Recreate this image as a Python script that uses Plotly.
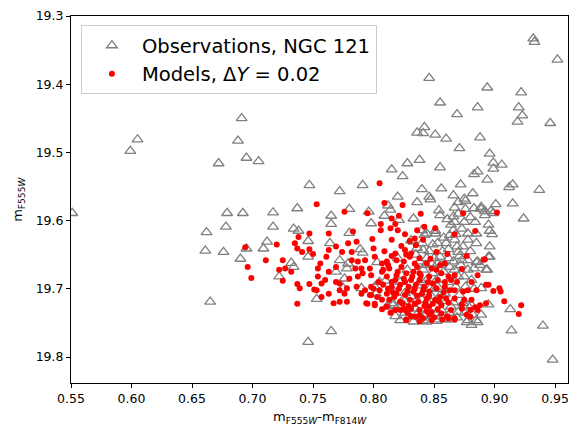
import plotly.graph_objects as go

obs_points = [
    (0.932, 19.333), (0.933, 19.338), (0.952, 19.364), (0.846, 19.391), (0.894, 19.405),
    (0.922, 19.412), (0.855, 19.427), (0.886, 19.434), (0.920, 19.434), (0.923, 19.446),
    (0.919, 19.455), (0.946, 19.457), (0.869, 19.444), (0.836, 19.471), (0.842, 19.463),
    (0.841, 19.472), (0.851, 19.474), (0.860, 19.480), (0.888, 19.478), (0.871, 19.494),
    (0.896, 19.502), (0.899, 19.515), (0.906, 19.518), (0.899, 19.524), (0.838, 19.511),
    (0.828, 19.516), (0.815, 19.525), (0.824, 19.535), (0.855, 19.522), (0.883, 19.532),
    (0.886, 19.528), (0.894, 19.540), (0.840, 19.554), (0.856, 19.553), (0.872, 19.547),
    (0.882, 19.560), (0.866, 19.563), (0.875, 19.568), (0.912, 19.551), (0.915, 19.547),
    (0.937, 19.555), (0.846, 19.565), (0.820, 19.565),
    (0.599, 19.498), (0.605, 19.481), (0.691, 19.450), (0.688, 19.483), (0.695, 19.508),
    (0.705, 19.513), (0.672, 19.516), (0.747, 19.548), (0.791, 19.548), (0.772, 19.557),
    (0.551, 19.589), (0.662, 19.617), (0.661, 19.644), (0.665, 19.719), (0.746, 19.778),
    (0.765, 19.762), (0.746, 19.630), (0.746, 19.653), (0.737, 19.582), (0.780, 19.583),
    (0.796, 19.587),
    (0.679, 19.589), (0.692, 19.589), (0.717, 19.588), (0.678, 19.609), (0.717, 19.609),
    (0.734, 19.612), (0.738, 19.615), (0.712, 19.631), (0.709, 19.641), (0.695, 19.641),
    (0.676, 19.646), (0.690, 19.656), (0.732, 19.662), (0.734, 19.668), (0.722, 19.682),
    (0.753, 19.715),
    (0.765, 19.593), (0.765, 19.605), (0.780, 19.618), (0.764, 19.633), (0.789, 19.642),
    (0.791, 19.647), (0.772, 19.658), (0.779, 19.663), (0.769, 19.675), (0.778, 19.670),
    (0.776, 19.685), (0.775, 19.699), (0.790, 19.699), (0.801, 19.697), (0.805, 19.690),
    (0.802, 19.707),
    (0.812, 19.578), (0.814, 19.584), (0.809, 19.593), (0.821, 19.599), (0.833, 19.597),
    (0.836, 19.573), (0.831, 19.629), (0.840, 19.614), (0.842, 19.621), (0.851, 19.615),
    (0.854, 19.585), (0.867, 19.581), (0.870, 19.573), (0.876, 19.571), (0.876, 19.583),
    (0.883, 19.582), (0.889, 19.583), (0.892, 19.586), (0.897, 19.586), (0.889, 19.580),
    (0.901, 19.576), (0.915, 19.575), (0.924, 19.597), (0.847, 19.569),
    (0.798, 19.604), (0.803, 19.661), (0.810, 19.688), (0.815, 19.700), (0.822, 19.690),
    (0.826, 19.706), (0.820, 19.655), (0.828, 19.672),
    (0.844, 19.619), (0.851, 19.619), (0.840, 19.633), (0.841, 19.643), (0.846, 19.645),
    (0.853, 19.633), (0.844, 19.655), (0.848, 19.663), (0.853, 19.663), (0.841, 19.672),
    (0.849, 19.677), (0.844, 19.687), (0.852, 19.687), (0.847, 19.699), (0.833, 19.631),
    (0.831, 19.711), (0.840, 19.716), (0.848, 19.711), (0.853, 19.716), (0.816, 19.721),
    (0.823, 19.719), (0.811, 19.726), (0.819, 19.729), (0.835, 19.729), (0.845, 19.731),
    (0.852, 19.736), (0.838, 19.741), (0.830, 19.741), (0.822, 19.746), (0.844, 19.748),
    (0.852, 19.747), (0.833, 19.748), (0.841, 19.746),
    (0.855, 19.592), (0.866, 19.594), (0.867, 19.602), (0.875, 19.602), (0.884, 19.602),
    (0.892, 19.592), (0.899, 19.589), (0.895, 19.606), (0.878, 19.619), (0.885, 19.619),
    (0.867, 19.628), (0.878, 19.628), (0.860, 19.633), (0.869, 19.638), (0.885, 19.633),
    (0.870, 19.646), (0.873, 19.658), (0.878, 19.658), (0.886, 19.660), (0.895, 19.653),
    (0.893, 19.672), (0.881, 19.687), (0.889, 19.699), (0.855, 19.653), (0.856, 19.665),
    (0.858, 19.675), (0.863, 19.668), (0.867, 19.672), (0.870, 19.682), (0.875, 19.682),
    (0.853, 19.697), (0.859, 19.707), (0.871, 19.709), (0.874, 19.721), (0.881, 19.724),
    (0.856, 19.731), (0.864, 19.726), (0.870, 19.734), (0.878, 19.746), (0.885, 19.746),
    (0.864, 19.745), (0.853, 19.745), (0.889, 19.738), (0.866, 19.614), (0.864, 19.606),
    (0.863, 19.621),
    (0.835, 19.650), (0.838, 19.660), (0.843, 19.665), (0.850, 19.655), (0.857, 19.645),
    (0.862, 19.655), (0.866, 19.660), (0.872, 19.665), (0.878, 19.672), (0.883, 19.670),
    (0.862, 19.690), (0.868, 19.697), (0.876, 19.697), (0.883, 19.700), (0.857, 19.718),
    (0.863, 19.736), (0.869, 19.742), (0.875, 19.735), (0.882, 19.738), (0.878, 19.725),
    (0.866, 19.720), (0.860, 19.745), (0.848, 19.740), (0.856, 19.740), (0.837, 19.735),
    (0.842, 19.705), (0.836, 19.695), (0.845, 19.720), (0.832, 19.722), (0.826, 19.735),
    (0.818, 19.740), (0.840, 19.690), (0.850, 19.700), (0.855, 19.710), (0.871, 19.652),
    (0.880, 19.645), (0.862, 19.642), (0.874, 19.638), (0.868, 19.620), (0.873, 19.612),
    (0.858, 19.625), (0.849, 19.635), (0.836, 19.640), (0.870, 19.590), (0.861, 19.598),
    (0.880, 19.595),
    (0.896, 19.615), (0.898, 19.620), (0.896, 19.638), (0.896, 19.653), (0.894, 19.672),
    (0.913, 19.730), (0.914, 19.761), (0.940, 19.754), (0.948, 19.804), (0.886, 19.749),
    (0.881, 19.753), (0.877, 19.749), (0.895, 19.723), (0.888, 19.665), (0.885, 19.661),
    (0.816, 19.724),
]

# model stars, delta Y = 0.02
model_points = [
    (0.694, 19.639), (0.696, 19.668), (0.699, 19.684), (0.711, 19.658), (0.720, 19.635),
    (0.722, 19.672), (0.725, 19.658), (0.725, 19.688), (0.727, 19.670), (0.732, 19.675),
    (0.735, 19.633), (0.738, 19.624), (0.737, 19.641), (0.737, 19.693), (0.739, 19.699),
    (0.737, 19.722), (0.741, 19.646), (0.747, 19.619), (0.747, 19.642), (0.750, 19.649),
    (0.747, 19.693), (0.751, 19.701), (0.753, 19.576),
    (0.776, 19.587), (0.795, 19.589), (0.763, 19.619), (0.783, 19.616), (0.786, 19.631),
    (0.779, 19.633), (0.763, 19.643), (0.769, 19.638), (0.774, 19.646), (0.782, 19.646),
    (0.800, 19.641), (0.761, 19.653), (0.756, 19.663), (0.754, 19.670), (0.763, 19.675),
    (0.769, 19.668), (0.782, 19.658), (0.787, 19.660), (0.793, 19.658), (0.801, 19.653),
    (0.785, 19.670), (0.790, 19.670), (0.797, 19.670), (0.754, 19.682), (0.760, 19.687),
    (0.757, 19.692), (0.769, 19.690), (0.772, 19.692), (0.780, 19.685), (0.787, 19.682),
    (0.791, 19.677), (0.798, 19.680), (0.807, 19.663), (0.807, 19.675), (0.753, 19.702),
    (0.763, 19.707), (0.772, 19.702), (0.778, 19.699), (0.786, 19.697), (0.793, 19.702),
    (0.798, 19.697), (0.805, 19.702), (0.757, 19.712), (0.776, 19.707), (0.790, 19.707),
    (0.797, 19.709), (0.767, 19.721), (0.772, 19.719), (0.778, 19.719), (0.794, 19.721),
    (0.801, 19.724), (0.807, 19.716),
    (0.818, 19.648), (0.826, 19.643), (0.831, 19.648), (0.835, 19.636), (0.841, 19.628),
    (0.811, 19.660), (0.819, 19.658), (0.825, 19.660), (0.830, 19.653), (0.834, 19.663),
    (0.844, 19.663), (0.808, 19.672), (0.813, 19.670), (0.820, 19.675), (0.827, 19.677),
    (0.833, 19.675), (0.838, 19.677), (0.811, 19.682), (0.818, 19.687), (0.825, 19.685),
    (0.831, 19.687), (0.838, 19.687), (0.846, 19.682), (0.808, 19.694), (0.815, 19.697),
    (0.822, 19.694), (0.829, 19.697), (0.835, 19.694), (0.842, 19.697), (0.849, 19.692),
    (0.811, 19.707), (0.819, 19.707), (0.826, 19.709), (0.833, 19.704), (0.840, 19.707),
    (0.846, 19.704), (0.852, 19.699), (0.813, 19.716), (0.822, 19.719), (0.830, 19.716),
    (0.837, 19.719), (0.844, 19.714), (0.851, 19.716), (0.818, 19.731), (0.825, 19.729),
    (0.831, 19.729), (0.838, 19.731), (0.846, 19.726), (0.811, 19.726), (0.827, 19.746),
    (0.835, 19.741), (0.841, 19.743), (0.848, 19.746), (0.822, 19.731), (0.838, 19.748),
    (0.846, 19.738),
    (0.874, 19.589), (0.867, 19.620), (0.884, 19.615), (0.852, 19.646), (0.861, 19.649),
    (0.877, 19.652), (0.891, 19.657), (0.859, 19.663), (0.873, 19.671), (0.852, 19.672),
    (0.856, 19.677), (0.862, 19.682), (0.867, 19.680), (0.864, 19.687), (0.869, 19.690),
    (0.853, 19.687), (0.881, 19.690), (0.886, 19.680), (0.893, 19.694), (0.899, 19.703),
    (0.859, 19.697), (0.863, 19.702), (0.867, 19.702), (0.874, 19.704), (0.878, 19.702),
    (0.885, 19.702), (0.855, 19.712), (0.860, 19.714), (0.867, 19.714), (0.875, 19.716),
    (0.881, 19.716), (0.888, 19.724), (0.893, 19.721), (0.856, 19.724), (0.864, 19.731),
    (0.873, 19.729), (0.880, 19.731), (0.886, 19.731), (0.856, 19.736), (0.862, 19.743),
    (0.867, 19.743), (0.877, 19.738), (0.880, 19.741),
    (0.902, 19.588), (0.892, 19.657), (0.895, 19.694), (0.904, 19.699), (0.905, 19.704),
    (0.908, 19.718), (0.922, 19.724), (0.920, 19.737),
    (0.805, 19.545), (0.809, 19.574), (0.824, 19.577), (0.821, 19.593), (0.815, 19.597),
    (0.839, 19.590), (0.806, 19.605), (0.818, 19.605), (0.842, 19.609), (0.851, 19.611),
    (0.814, 19.611), (0.806, 19.614), (0.820, 19.614), (0.836, 19.614), (0.834, 19.626),
    (0.799, 19.627), (0.827, 19.745), (0.838, 19.739), (0.848, 19.734), (0.861, 19.740),
    (0.867, 19.745), (0.826, 19.731), (0.801, 19.722), (0.795, 19.722), (0.798, 19.709),
    (0.816, 19.705), (0.854, 19.718), (0.873, 19.723), (0.884, 19.727),
    (0.815, 19.690), (0.821, 19.700), (0.828, 19.703), (0.834, 19.700), (0.841, 19.702),
    (0.846, 19.710), (0.817, 19.712), (0.824, 19.722), (0.828, 19.735), (0.834, 19.722),
    (0.842, 19.725), (0.849, 19.722), (0.853, 19.730), (0.858, 19.705), (0.862, 19.720),
    (0.859, 19.690), (0.845, 19.690), (0.839, 19.680), (0.832, 19.682), (0.826, 19.690),
    (0.819, 19.680), (0.812, 19.700), (0.836, 19.710), (0.843, 19.720), (0.831, 19.740),
    (0.850, 19.742), (0.857, 19.745), (0.844, 19.733), (0.829, 19.725), (0.814, 19.735),
    (0.807, 19.730), (0.803, 19.712), (0.800, 19.700), (0.804, 19.690), (0.812, 19.665),
    (0.823, 19.668), (0.836, 19.668), (0.848, 19.670), (0.855, 19.665), (0.847, 19.656),
    (0.838, 19.655), (0.827, 19.650), (0.815, 19.652), (0.809, 19.645), (0.823, 19.637),
    (0.830, 19.630), (0.815, 19.628), (0.826, 19.620),
]

obs_color = [p[0] for p in obs_points]
obs_mag = [p[1] for p in obs_points]
mod_color = [p[0] for p in model_points]
mod_mag = [p[1] for p in model_points]

fig = go.Figure()
fig.add_trace(go.Scatter(
    x=obs_color, y=obs_mag, mode="markers",
    name="Observations, NGC 121",
    marker=dict(symbol="triangle-up-open", size=9.5, color="gray", line=dict(width=1.3, color="gray")),
))
fig.add_trace(go.Scatter(
    x=mod_color, y=mod_mag, mode="markers",
    name="Models, Δ<i>Y</i> = 0.02",
    marker=dict(symbol="circle", size=6, color="red", line=dict(width=0)),
))

axis_style = dict(
    showline=True, mirror=True, linecolor="black", linewidth=1,
    ticks="outside", ticklen=4, tickcolor="black", showgrid=False, zeroline=False,
    automargin=False,
    tickfont=dict(family="DejaVu Sans", size=12.5, color="black"),
)
fig.update_xaxes(
    range=[0.55, 0.9607], tickvals=[0.55, 0.6, 0.65, 0.7, 0.75, 0.8, 0.85, 0.9, 0.95],
    tickformat=".2f",
    **axis_style,
)
fig.update_yaxes(
    range=[19.838, 19.3], tickvals=[19.3, 19.4, 19.5, 19.6, 19.7, 19.8],
    tickformat=".1f",
    **axis_style,
)

# axis titles placed as annotations (paper coords)
title_font = dict(family="DejaVu Sans", size=13, color="black")
fig.add_annotation(
    text="m<sub>F555<i>W</i></sub>-m<sub>F814<i>W</i></sub>",
    xref="paper", yref="paper", x=0.5, y=-0.095, xanchor="center", yanchor="middle",
    showarrow=False, font=title_font,
)
fig.add_annotation(
    text="m<sub>F555<i>W</i></sub>",
    xref="paper", yref="paper", x=-0.106, y=0.5, xanchor="center", yanchor="middle",
    textangle=-90, showarrow=False, font=title_font,
)

fig.update_layout(
    width=580, height=438,
    margin=dict(l=63, r=20, t=8, b=63),
    plot_bgcolor="white", paper_bgcolor="white",
    font=dict(family="DejaVu Sans", color="black"),
    legend=dict(
        x=0.02, y=0.975, xanchor="left", yanchor="top",
        bgcolor="rgba(255,255,255,0.8)", bordercolor="#cccccc", borderwidth=1,
        font=dict(family="DejaVu Sans", size=19.5, color="black"),
        itemwidth=50,
    ),
)

fig.write_html("out.html")
